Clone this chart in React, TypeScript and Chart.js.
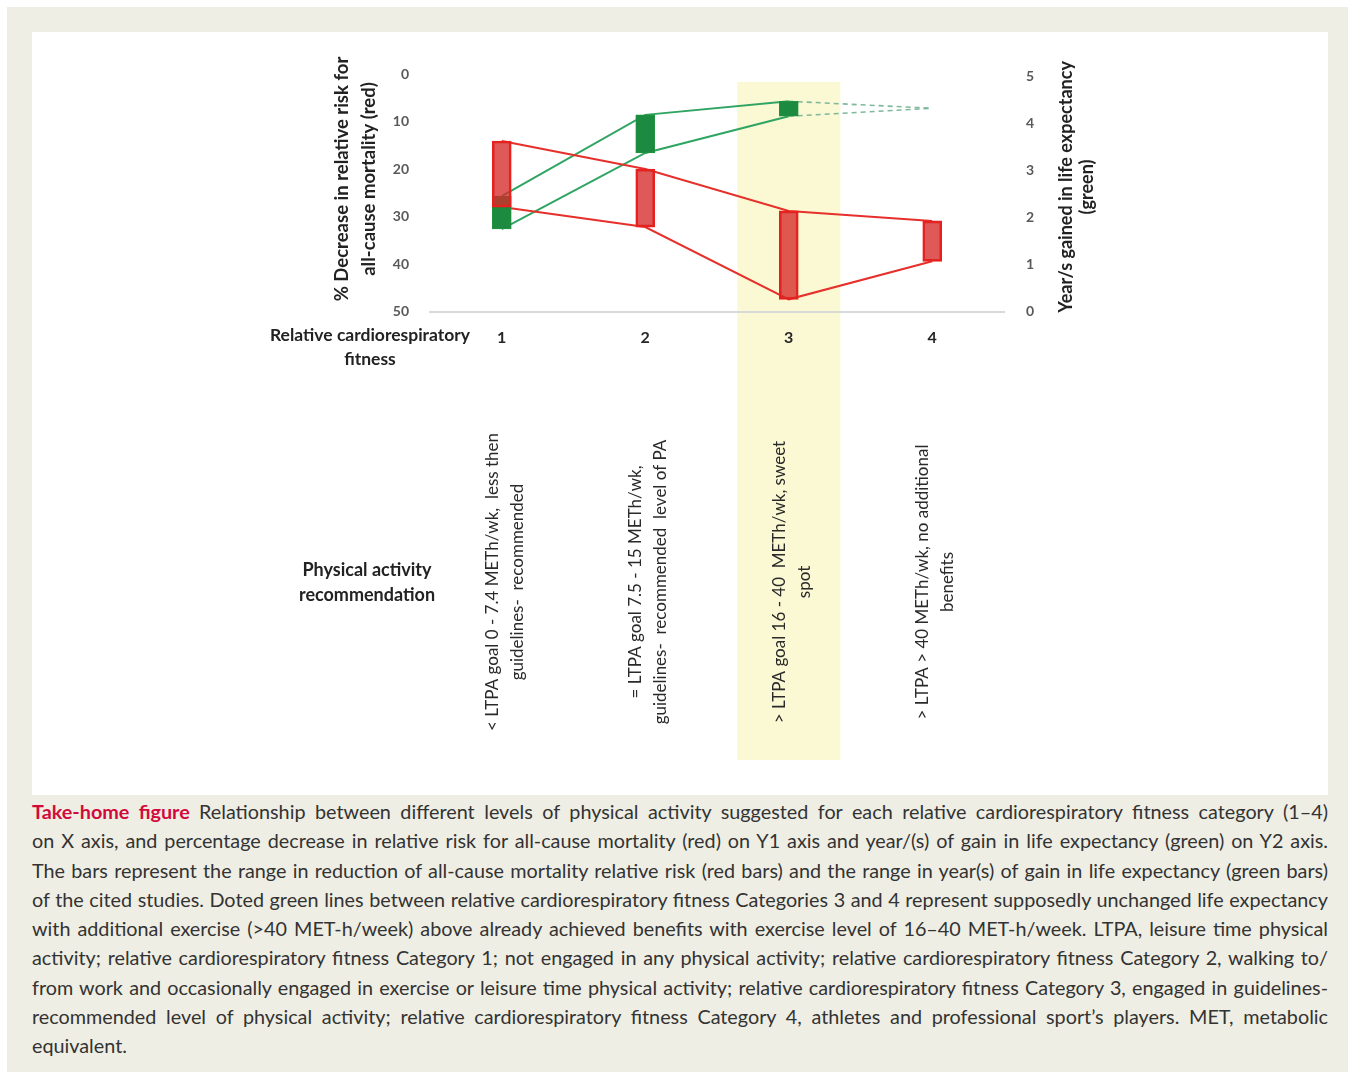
import React, { useEffect, useRef } from 'react';
import { Chart, registerables } from 'chart.js';

Chart.register(...registerables);

// ---------- DATA ----------
const categories = ['1', '2', '3', '4'];
// % decrease in relative risk for all-cause mortality (red), range per category
const redLow = [14.1, 20.0, 28.8, 30.9];
const redHigh = [28.0, 32.2, 47.4, 39.4];
// years gained in life expectancy (green), range per category
const greenLow: (number | null)[] = [1.76, 3.38, 4.16, null];
const greenHigh: (number | null)[] = [2.46, 4.19, 4.48, null];
// supposed unchanged life expectancy for category 4 (dotted projection)
const greenPlateau = 4.33;
const leftTicks = [0, 10, 20, 30, 40, 50];
const rightTicks = [0, 1, 2, 3, 4, 5];
const activityLabels: string[][] = [
  ['< LTPA goal 0 - 7.4 METh/wk,  less then', 'guidelines-  recommended'],
  ['= LTPA goal 7.5 - 15 METh/wk,', 'guidelines-  recommended  level of PA'],
  ['> LTPA goal 16 - 40  METh/wk, sweet', 'spot'],
  ['> LTPA > 40 METh/wk, no additional', 'benefits'],
];
const highlightedCategory = 2;
const leftTitle = ['% Decrease in relative risk for', 'all-cause mortality (red)'];
const rightTitle = ['Year/s gained in life expectancy', '(green)'];
const xTitle = ['Relative cardiorespiratory', 'fitness'];
const rowTitle = ['Physical activity', 'recommendation'];
const captionHead = 'Take-home figure';
const captionLines = [
  'Relationship between different levels of physical activity suggested for each relative cardiorespiratory fitness category (1–4)',
  'on X axis, and percentage decrease in relative risk for all-cause mortality (red) on Y1 axis and year/(s) of gain in life expectancy (green) on Y2 axis.',
  'The bars represent the range in reduction of all-cause mortality relative risk (red bars) and the range in year(s) of gain in life expectancy (green bars)',
  'of the cited studies. Doted green lines between relative cardiorespiratory fitness Categories 3 and 4 represent supposedly unchanged life expectancy',
  'with additional exercise (>40 MET-h/week) above already achieved benefits with exercise level of 16–40 MET-h/week. LTPA, leisure time physical',
  'activity; relative cardiorespiratory fitness Category 1; not engaged in any physical activity; relative cardiorespiratory fitness Category 2, walking to/',
  'from work and occasionally engaged in exercise or leisure time physical activity; relative cardiorespiratory fitness Category 3, engaged in guidelines-',
  'recommended level of physical activity; relative cardiorespiratory fitness Category 4, athletes and professional sport’s players. MET, metabolic',
  'equivalent.',
];

// ---------- LAYOUT ----------
const W = 1296;
const H = 763;
const AREA_LEFT = 398;
const AREA_RIGHT = 972;
const AREA_TOP = 42;
const AREA_BOTTOM = 279.7;
const CAPTION_W = 1296;

function captionFontSize(): number {
  const c = document.createElement('canvas').getContext('2d');
  if (!c) return 18;
  const base = 20;
  let maxW = 0;
  captionLines.forEach((l, i) => {
    c.font = `${base}px Lato`;
    let w = c.measureText(l).width;
    if (i === 0) {
      c.font = `bold ${base}px Lato`;
      w += c.measureText(captionHead + ' ').width;
    }
    if (i < captionLines.length - 1) maxW = Math.max(maxW, w);
  });
  return Math.min(20, Math.floor((base * (CAPTION_W - 6)) / maxW * 10) / 10);
}

const decorPlugin = {
  id: 'decor',
  beforeDraw(chart: any) {
    const { ctx } = chart;
    const x = chart.scales.x;
    const cx = x.getPixelForValue(highlightedCategory);
    ctx.save();
    ctx.fillStyle = '#fbf9d3';
    ctx.fillRect(cx - 51.5, 50, 103, 678);
    ctx.restore();
  },
  afterDraw(chart: any) {
    const { ctx } = chart;
    const x = chart.scales.x;
    ctx.save();
    ctx.fillStyle = '#222222';
    ctx.textAlign = 'center';
    ctx.textBaseline = 'middle';
    const rot = (px: number, py: number, lines: string[], gap: number) => {
      ctx.save();
      ctx.translate(px, py);
      ctx.rotate(-Math.PI / 2);
      lines.forEach((l, i) => {
        ctx.fillText(l, 0, (i - (lines.length - 1) / 2) * gap);
      });
      ctx.restore();
    };
    ctx.font = 'bold 18.5px Lato';
    rot(324, 147, leftTitle, 27);
    ctx.font = 'bold 18px Lato';
    rot(1045, 155, rightTitle, 21);
    ctx.font = 'bold 17.5px Lato';
    xTitle.forEach((l, i) => ctx.fillText(l, 338, 303 + i * 24));
    ctx.font = 'bold 18px Lato';
    rowTitle.forEach((l, i) => ctx.fillText(l, 335, 538 + i * 25));
    ctx.font = '17px Lato';
    ctx.fillStyle = '#2a2a2a';
    activityLabels.forEach((lines, i) => {
      const cx = x.getPixelForValue(i) + 3;
      rot(cx, 550, lines, 25);
    });
    ctx.restore();
  },
};

function ChartView() {
  const ref = useRef<HTMLCanvasElement | null>(null);
  useEffect(() => {
    if (!ref.current) return;
    const redBars = categories.map((_, i) => [redLow[i], redHigh[i]]);
    const greenBars = categories.map((_, i) =>
      greenLow[i] == null ? null : [greenLow[i], greenHigh[i]]
    );
    const greenUpper = categories.map((_, i) => (greenLow[i] == null ? greenPlateau : greenHigh[i]));
    const greenLower = categories.map((_, i) => (greenLow[i] == null ? greenPlateau : greenLow[i]));
    const dashedSeg = {
      borderDash: (c: any) => (greenLow[c.p1DataIndex] == null ? [5, 4] : undefined),
      borderColor: (c: any) => (greenLow[c.p1DataIndex] == null ? '#7fb89a' : undefined),
      borderWidth: (c: any) => (greenLow[c.p1DataIndex] == null ? 1.6 : undefined),
    };
    const chart = new Chart(ref.current, {
      type: 'bar',
      data: {
        labels: categories,
        datasets: [
          {
            type: 'bar',
            label: 'Red range',
            data: redBars as any,
            yAxisID: 'y',
            backgroundColor: 'rgba(214,42,42,0.78)',
            borderColor: '#e8211f',
            borderWidth: 2,
            borderSkipped: false,
            grouped: false,
            barThickness: 19,
            order: 1,
          },
          {
            type: 'bar',
            label: 'Green range',
            data: greenBars as any,
            yAxisID: 'y2',
            backgroundColor: '#1c8a40',
            borderColor: '#22943f',
            borderWidth: 1,
            borderSkipped: false,
            grouped: false,
            barThickness: 19,
            order: 2,
          },
          {
            type: 'line',
            label: 'red upper',
            data: redLow,
            yAxisID: 'y',
            borderColor: '#e6302b',
            borderWidth: 2,
            pointRadius: 0,
            order: 3,
          },
          {
            type: 'line',
            label: 'red lower',
            data: redHigh,
            yAxisID: 'y',
            borderColor: '#e6302b',
            borderWidth: 2,
            pointRadius: 0,
            order: 3,
          },
          {
            type: 'line',
            label: 'green upper',
            data: greenUpper as any,
            yAxisID: 'y2',
            borderColor: '#30a462',
            borderWidth: 2,
            pointRadius: 0,
            segment: dashedSeg,
            order: 3,
          },
          {
            type: 'line',
            label: 'green lower',
            data: greenLower as any,
            yAxisID: 'y2',
            borderColor: '#30a462',
            borderWidth: 2,
            pointRadius: 0,
            segment: dashedSeg,
            order: 3,
          },
        ],
      },
      options: {
        responsive: false,
        animation: false,
        devicePixelRatio: 1,
        layout: { padding: { top: AREA_TOP, left: 0, right: 0, bottom: 0 } },
        plugins: { legend: { display: false }, tooltip: { enabled: false } },
        scales: {
          x: {
            type: 'category',
            offset: true,
            grid: { display: false },
            border: { display: true, color: '#d9d9d9', width: 2 },
            ticks: { font: { family: 'Lato', weight: 'bold', size: 16 }, color: '#262626', padding: 9 },
            afterFit: (s: any) => {
              s.height = H - AREA_BOTTOM;
            },
          },
          y: {
            position: 'left',
            reverse: true,
            min: 0,
            max: 50,
            grid: { display: false },
            border: { display: false },
            ticks: { font: { family: 'Lato', weight: 'bold', size: 14 }, color: '#595959', padding: 13 },
            afterBuildTicks: (s: any) => {
              s.ticks = leftTicks.map((v) => ({ value: v }));
            },
            afterFit: (s: any) => {
              s.width = AREA_LEFT;
            },
          },
          y2: {
            position: 'right',
            min: 0,
            max: 5.06,
            grid: { display: false },
            border: { display: false },
            ticks: { font: { family: 'Lato', weight: 'bold', size: 14 }, color: '#595959', padding: 14 },
            afterBuildTicks: (s: any) => {
              s.ticks = rightTicks.map((v) => ({ value: v }));
            },
            afterFit: (s: any) => {
              s.width = W - AREA_RIGHT;
            },
          },
        },
      } as any,
      plugins: [decorPlugin],
    });
    return () => chart.destroy();
  }, []);
  return <canvas ref={ref} width={W} height={H} style={{ width: W, height: H, display: 'block' }} />;
}

export default function App() {
  const fs = captionFontSize();
  return (
    <div style={{ position: 'absolute', left: 0, top: 0, width: 1355, height: 1078, background: '#ffffff' }}>
      <div style={{ position: 'absolute', left: 7, top: 7, width: 1341, height: 1065, background: '#efeee4' }} />
      <div style={{ position: 'absolute', left: 32, top: 32, width: W, height: H, background: '#ffffff' }}>
        <ChartView />
      </div>
      <div
        style={{
          position: 'absolute',
          left: 32,
          top: 797,
          width: CAPTION_W,
          fontFamily: 'Lato, sans-serif',
          fontSize: fs,
          lineHeight: '29.3px',
          color: '#333333',
        }}
      >
        {captionLines.map((l, i) => (
          <div
            key={i}
            style={{
              textAlign: 'justify',
              textAlignLast: i === captionLines.length - 1 ? 'left' : 'justify',
              whiteSpace: 'nowrap',
            }}
          >
            {i === 0 ? (
              <span style={{ color: '#d20a3c', fontWeight: 'bold' }}>{captionHead} </span>
            ) : null}
            {l}
          </div>
        ))}
      </div>
    </div>
  );
}
